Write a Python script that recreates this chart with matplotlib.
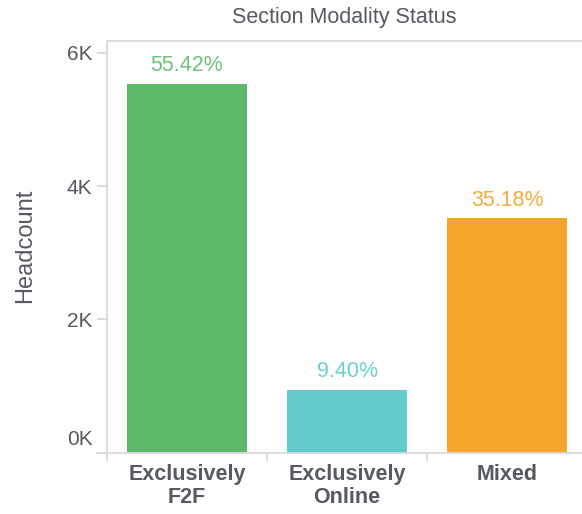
import matplotlib
matplotlib.use("Agg")
import matplotlib.pyplot as plt
import matplotlib.transforms as mtransforms

categories = ["Exclusively\nF2F", "Exclusively\nOnline", "Mixed"]
headcount = [5537, 939, 3515]
colors = ["#5EB96A", "#62CBC9", "#F5A52A"]
label_colors = ["#6FC27A", "#6DD0CE", "#F6AA3A"]
yticks = [0, 2000, 4000, 6000]
ytick_labels = ["0K", "2K", "4K", "6K"]
title = "Section Modality Status"
ylabel = "Headcount"

plt.rcParams['font.family'] = ['Liberation Sans', 'DejaVu Sans']

W, H = 582, 514
fig = plt.figure(figsize=(W / 100, H / 100), dpi=100)
ax_left, ax_right = 107, 582
ax_top, ax_bottom = 41, 452.5
ax = fig.add_axes([ax_left / W, 1 - ax_bottom / H, (ax_right - ax_left) / W, (ax_bottom - ax_top) / H])

x = list(range(len(categories)))
bars = ax.bar(x, headcount, width=0.75, color=colors, edgecolor="none", zorder=2)

total = sum(headcount)
for xi, v, c in zip(x, headcount, label_colors):
    ax.annotate(f"{v / total * 100:.2f}%", (xi, v), xytext=(0, 5.5), textcoords="offset points",
                ha="center", va="bottom", fontsize=15.5, color=c)

ax.set_xlim(-0.5, -0.5 + (ax_right - ax_left) / 160)
ax.set_ylim(0, 2000 * (ax_bottom - ax_top) / 133.2)

ax.set_yticks(yticks)
ax.set_yticklabels(ytick_labels, fontsize=15, color="#555a60")
ax.tick_params(axis="y", length=7.5, width=1.2, color="#d6d6d6", pad=3)

# shift 0K label up as in the reference
lab0 = ax.get_yticklabels()[0]
lab0.set_transform(lab0.get_transform() + mtransforms.ScaledTranslation(0, 15 / 100, fig.dpi_scale_trans))

ax.set_xticks(x)
ax.set_xticklabels(categories, fontsize=15.5, fontweight="bold", color="#555a60", linespacing=1.15)
ax.tick_params(axis="x", length=0, pad=8)
ax.set_xticks([-0.5, 0.5, 1.5], minor=True)
ax.tick_params(axis="x", which="minor", length=6, width=1.2, color="#d6d6d6")

for s in ["left", "top", "bottom"]:
    ax.spines[s].set_color("#d9d9d9")
    ax.spines[s].set_linewidth(1.3)
ax.spines["right"].set_visible(False)

# extend bottom axis line to the left
fig.add_artist(plt.Line2D([97 / W, ax_left / W], [1 - ax_bottom / H] * 2, color="#d9d9d9", lw=1.3))

fig.text((ax_left + ax_right) / 2 / W, 1 - 18 / H, title, ha="center", va="center", fontsize=15.5, color="#555a60")
fig.text(25 / W, 1 - 246 / H, ylabel, ha="center", va="center", rotation=90, fontsize=17, color="#555a60")

fig.savefig("out.png", dpi=100)
